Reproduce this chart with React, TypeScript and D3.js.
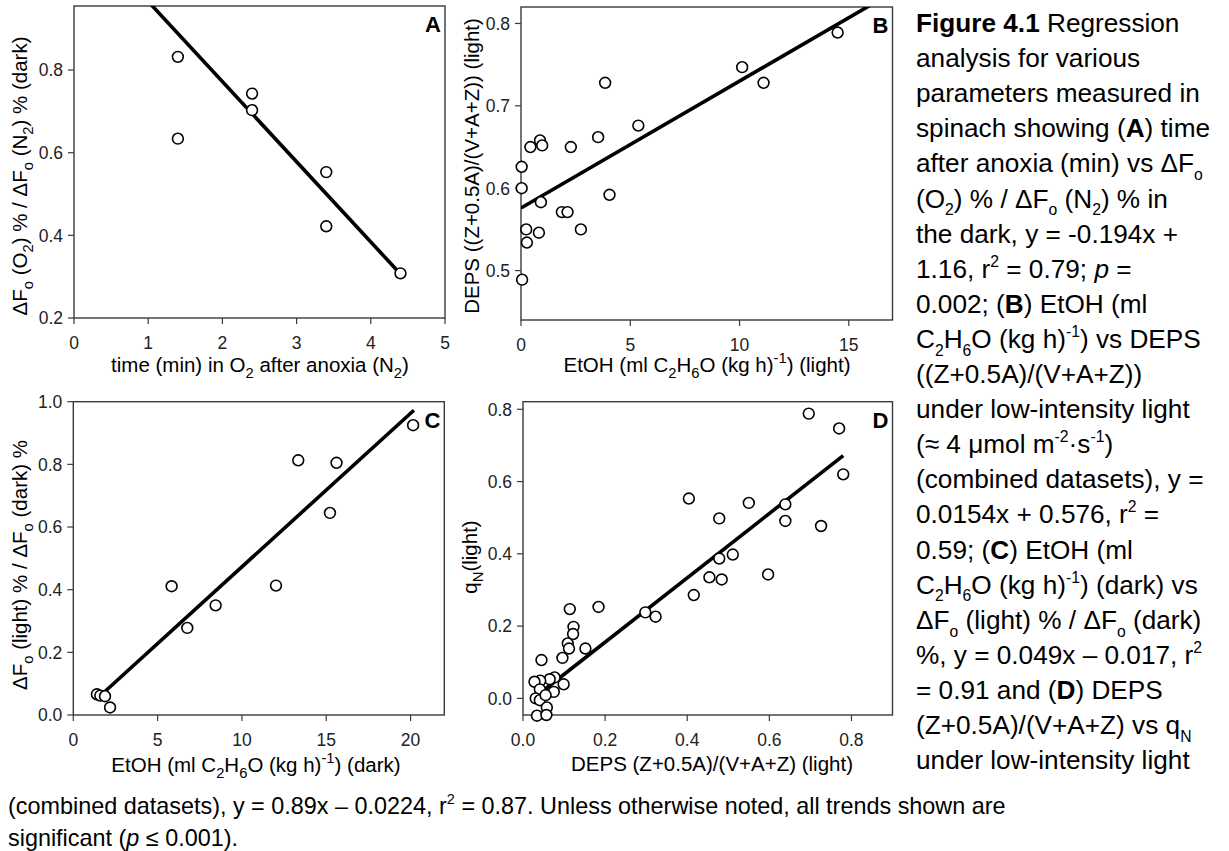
import React from "react";
import * as d3 from "d3";

// Panel A: time in O2 after anoxia vs ΔFo ratio (dark)
const aTime = [1.4, 1.4, 2.4, 2.4, 3.4, 3.4, 4.4];
const aRatio = [0.832, 0.634, 0.743, 0.703, 0.553, 0.422, 0.308];
const aFit = [-0.194, 1.16];
const aFitRange = [1.0, 4.4];

// Panel B: EtOH (light) vs DEPS (light)
const bEtoh = [0.03, 0.03, 0.05, 0.24, 0.27, 0.43, 0.82, 0.87, 0.97, 0.91, 1.87, 2.13, 2.28, 2.74, 3.53, 3.85, 4.05, 5.37, 10.12, 11.1, 14.49];
const bDeps = [0.626, 0.6, 0.489, 0.55, 0.534, 0.65, 0.546, 0.658, 0.652, 0.583, 0.571, 0.571, 0.65, 0.55, 0.662, 0.728, 0.592, 0.676, 0.747, 0.728, 0.789];
const bFit = [0.0154, 0.576];
const bFitRange = [0, 17];

// Panel C: EtOH (dark) vs ΔFo light/dark ratio
const cEtoh = [1.4, 1.6, 1.88, 2.18, 5.83, 6.76, 8.44, 12.02, 13.34, 15.22, 15.61, 20.15];
const cRatio = [0.066, 0.062, 0.06, 0.024, 0.411, 0.278, 0.35, 0.413, 0.813, 0.645, 0.805, 0.925];
const cFit = [0.049, -0.017];
const cFitRange = [1.55, 20.2];

// Panel D: DEPS (light) vs qN (light)
const dDeps = [0.696, 0.77, 0.78, 0.404, 0.55, 0.639, 0.639, 0.478, 0.726, 0.511, 0.478, 0.454, 0.484, 0.597, 0.416, 0.184, 0.298, 0.323, 0.114, 0.123, 0.122, 0.109, 0.112, 0.152, 0.096, 0.045, 0.099, 0.077, 0.065, 0.042, 0.028, 0.075, 0.041, 0.031, 0.041, 0.055, 0.058, 0.034, 0.057];
const dQn = [0.788, 0.747, 0.62, 0.553, 0.541, 0.537, 0.491, 0.498, 0.477, 0.398, 0.387, 0.335, 0.329, 0.343, 0.286, 0.253, 0.238, 0.226, 0.247, 0.198, 0.178, 0.152, 0.138, 0.138, 0.112, 0.106, 0.039, 0.058, 0.053, 0.049, 0.046, 0.018, 0.025, 0.0, -0.005, 0.009, -0.025, -0.048, -0.046];
const dFit = [0.89, -0.0224];
const dFitRange = [0.035, 0.78];

const captionSide = [
  "*Figure 4.1* Regression",
  "analysis for various",
  "parameters measured in",
  "spinach showing (*A*) time",
  "after anoxia (min) vs ΔF_{o}",
  "(O_{2}) % / ΔF_{o} (N_{2}) % in",
  "the dark, y = -0.194x +",
  "1.16, r^{2} = 0.79; ~p~ =",
  "0.002; (*B*) EtOH (ml",
  "C_{2}H_{6}O (kg h)^{-1}) vs DEPS",
  "((Z+0.5A)/(V+A+Z))",
  "under low-intensity light",
  "(≈ 4 μmol m^{-2}·s^{-1})",
  "(combined datasets), y =",
  "0.0154x + 0.576, r^{2} =",
  "0.59; (*C*) EtOH (ml",
  "C_{2}H_{6}O (kg h)^{-1}) (dark) vs",
  "ΔF_{o} (light) % / ΔF_{o} (dark)",
  "%, y = 0.049x – 0.017, r^{2}",
  "= 0.91 and (*D*) DEPS",
  "(Z+0.5A)/(V+A+Z) vs q_{N}",
  "under low-intensity light",
];
const captionBottom = [
  "(combined datasets), y = 0.89x – 0.0224, r^{2} = 0.87. Unless otherwise noted, all trends shown are",
  "significant (~p~ ≤ 0.001).",
];

const FONT = "'Liberation Sans', Arial, Helvetica, sans-serif";

type Seg = { t: string; b: boolean; i: boolean; s: "" | "sub" | "sup" };

// Small markup: *bold*, ~italic~, _{sub}, ^{sup}
function parse(str: string): Seg[] {
  const out: Seg[] = [];
  let b = false, it = false, buf = "";
  const flush = () => { if (buf) out.push({ t: buf, b, i: it, s: "" }); buf = ""; };
  for (let k = 0; k < str.length; k++) {
    const ch = str[k];
    if ((ch === "_" || ch === "^") && str[k + 1] === "{") {
      flush();
      const end = str.indexOf("}", k);
      out.push({ t: str.slice(k + 2, end), b, i: it, s: ch === "_" ? "sub" : "sup" });
      k = end;
    } else if (ch === "*") { flush(); b = !b; }
    else if (ch === "~") { flush(); it = !it; }
    else buf += ch;
  }
  flush();
  return out;
}

function Rich({ str, x, y, size, anchor = "start", transform, subScale = 0.72 }: any) {
  const segs = parse(str);
  let prev = 0;
  return (
    <text x={x} y={y} fontSize={size} textAnchor={anchor} transform={transform} fontFamily={FONT} fill="#000">
      {segs.map((s, k) => {
        const off = s.s === "sub" ? 0.3 * size : s.s === "sup" ? -0.42 * size : 0;
        const dy = off - prev;
        prev = off;
        return (
          <tspan key={k} dy={dy} fontSize={s.s ? size * subScale : size}
            fontWeight={s.b ? "bold" : "normal"} fontStyle={s.i ? "italic" : "normal"}>
            {s.t}
          </tspan>
        );
      })}
    </text>
  );
}

const TICK_FS = 17.5;
const TITLE_FS = 20.5;

function Panel(p: any) {
  const x = d3.scaleLinear().domain(p.xDomain).range([p.x0, p.x1]);
  const y = d3.scaleLinear().domain(p.yDomain).range([p.y1, p.y0]);
  const line = d3.line<number>().x((v) => x(v)).y((v) => y(p.fit[0] * v + p.fit[1]));
  const clip = `clip-${p.id}`;
  const axisColor = "#3a3a3a";
  return (
    <g>
      <defs>
        <clipPath id={clip}>
          <rect x={p.x0} y={p.y0} width={p.x1 - p.x0} height={p.y1 - p.y0} />
        </clipPath>
      </defs>
      <rect x={p.x0} y={p.y0} width={p.x1 - p.x0} height={p.y1 - p.y0} fill="none" stroke={axisColor} strokeWidth={1.4} />
      {p.xTicks.map((t: number) => (
        <g key={"x" + t}>
          <line x1={x(t)} x2={x(t)} y1={p.y1} y2={p.y1 + 6} stroke={axisColor} strokeWidth={1.2} />
          <text x={x(t)} y={p.y1 + 31} fontSize={TICK_FS} textAnchor="middle" fontFamily={FONT} fill="#222">
            {p.xFmt(t)}
          </text>
        </g>
      ))}
      {p.yTicks.map((t: number) => (
        <g key={"y" + t}>
          <line x1={p.x0 - 6} x2={p.x0} y1={y(t)} y2={y(t)} stroke={axisColor} strokeWidth={1.2} />
          <text x={p.x0 - 11} y={y(t) + 6.3} fontSize={TICK_FS} textAnchor="end" fontFamily={FONT} fill="#222">
            {p.yFmt(t)}
          </text>
        </g>
      ))}
      <path d={line(p.fitRange) || ""} clipPath={`url(#${clip})`} fill="none" stroke="#000" strokeWidth={3.6} />
      {p.xs.map((v: number, k: number) => (
        <circle key={k} cx={x(v)} cy={y(p.ys[k])} r={5.4} fill="#fff" stroke="#000" strokeWidth={1.6} />
      ))}
      <text x={p.x1 - 4} y={p.y0 + 26} fontSize={22} fontWeight="bold" textAnchor="end" fontFamily={FONT}>
        {p.letter}
      </text>
      <Rich str={p.xLabel} x={p.xLabelPos[0]} y={p.xLabelPos[1]} size={TITLE_FS} anchor="middle" />
      <Rich str={p.yLabel} x={0} y={0} size={TITLE_FS} anchor="middle"
        transform={`translate(${p.yLabelPos[0]},${p.yLabelPos[1]}) rotate(-90)`} />
    </g>
  );
}

const f0 = d3.format("d");
const f1 = d3.format(".1f");

export default function App() {
  return (
    <svg width={1229} height={851} style={{ position: "absolute", left: 0, top: 0, background: "#fff" }}>
      <rect width={1229} height={851} fill="#fff" />
      <Panel id="a" x0={74} x1={445} y0={6} y1={318} xDomain={[0, 5]} yDomain={[0.2, 0.955]}
        xTicks={[0, 1, 2, 3, 4, 5]} yTicks={[0.2, 0.4, 0.6, 0.8]} xFmt={f0} yFmt={f1}
        xs={aTime} ys={aRatio} fit={aFit} fitRange={aFitRange} letter="A"
        xLabel="time (min) in O_{2} after anoxia (N_{2})" xLabelPos={[260, 372]}
        yLabel="ΔF_{o} (O_{2}) % / ΔF_{o} (N_{2}) % (dark)" yLabelPos={[27, 176]} />
      <Panel id="b" x0={521} x1={892.5} y0={7} y1={320} xDomain={[0, 17]} yDomain={[0.44, 0.82]}
        xTicks={[0, 5, 10, 15]} yTicks={[0.5, 0.6, 0.7, 0.8]} xFmt={f0} yFmt={f1}
        xs={bEtoh} ys={bDeps} fit={bFit} fitRange={bFitRange} letter="B"
        xLabel="EtOH (ml C_{2}H_{6}O (kg h)^{-1}) (light)" xLabelPos={[707, 372]}
        yLabel="DEPS ((Z+0.5A)/(V+A+Z)) (light)" yLabelPos={[479, 166]} />
      <Panel id="c" x0={73.3} x1={444.3} y0={401.7} y1={715} xDomain={[0, 22]} yDomain={[0, 1]}
        xTicks={[0, 5, 10, 15, 20]} yTicks={[0, 0.2, 0.4, 0.6, 0.8, 1.0]} xFmt={f0} yFmt={f1}
        xs={cEtoh} ys={cRatio} fit={cFit} fitRange={cFitRange} letter="C"
        xLabel="EtOH (ml C_{2}H_{6}O (kg h)^{-1}) (dark)" xLabelPos={[256, 772]}
        yLabel="ΔF_{o} (light) % / ΔF_{o} (dark) %" yLabelPos={[27, 565]} />
      <Panel id="d" x0={523} x1={892.5} y0={401.7} y1={715} xDomain={[0, 0.9]} yDomain={[-0.046, 0.821]}
        xTicks={[0, 0.2, 0.4, 0.6, 0.8]} yTicks={[0, 0.2, 0.4, 0.6, 0.8]} xFmt={f1} yFmt={f1}
        xs={dDeps} ys={dQn} fit={dFit} fitRange={dFitRange} letter="D"
        xLabel="DEPS (Z+0.5A)/(V+A+Z) (light)" xLabelPos={[712, 771]}
        yLabel="q_{N}(light)" yLabelPos={[477, 557]} />
      {captionSide.map((s, k) => (
        <Rich key={k} str={s} x={916} y={32 + k * 35.1} size={26.2} subScale={0.6} />
      ))}
      {captionBottom.map((s, k) => (
        <Rich key={"b" + k} str={s} x={8} y={814 + k * 32} size={23.4} subScale={0.62} />
      ))}
    </svg>
  );
}
